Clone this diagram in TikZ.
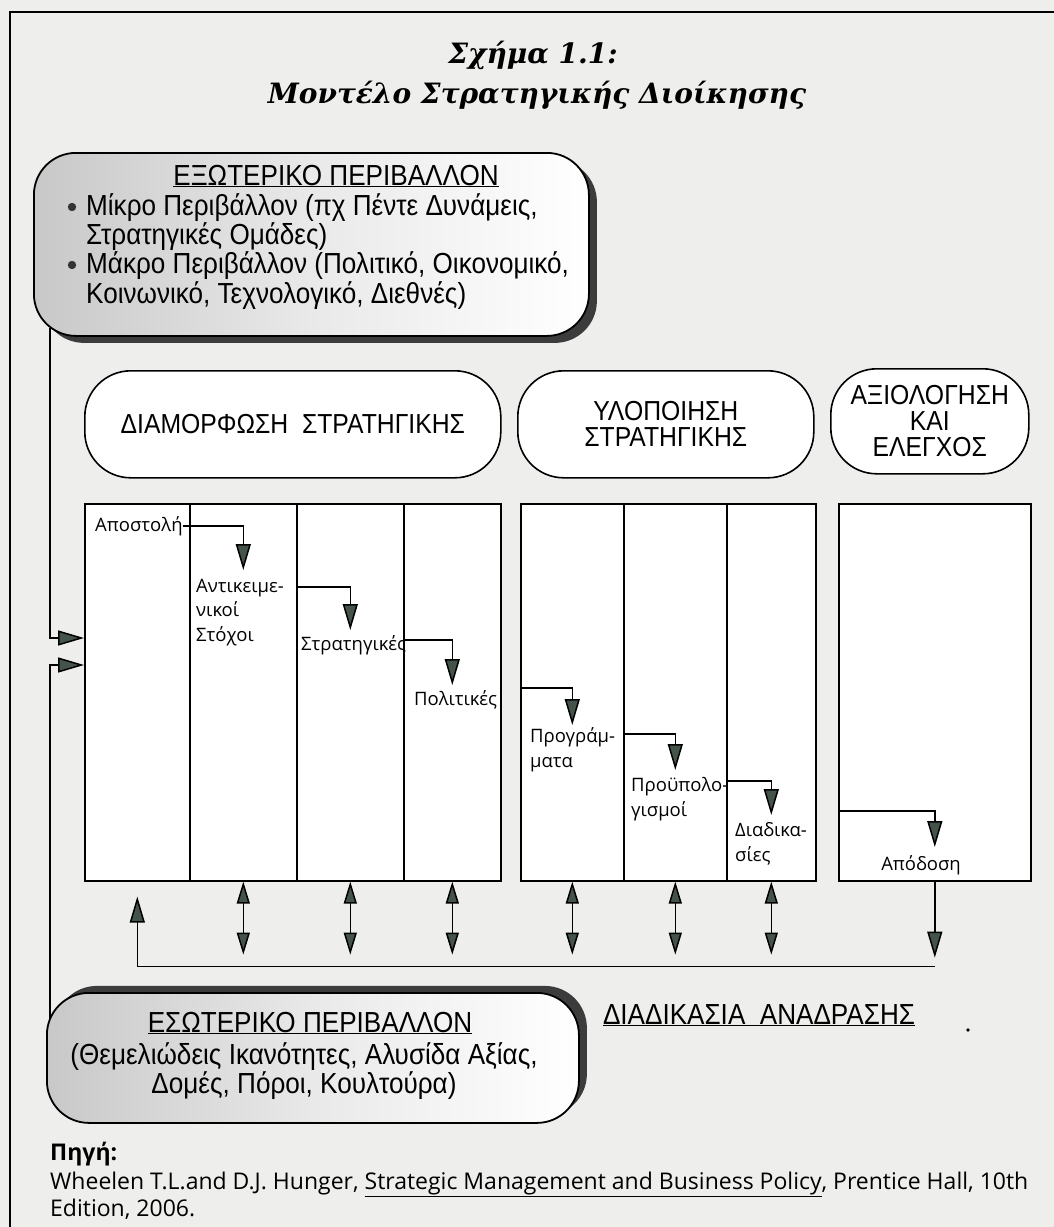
\documentclass[tikz,border=0pt]{standalone}
\usepackage{fontspec}
\setmainfont{Liberation Sans}
\newfontfamily\condf{Liberation Sans}[FakeStretch=0.9]
\newfontfamily\humf{Open Sans}
\newfontfamily\titf{DejaVu Serif}
\usetikzlibrary{arrows.meta,calc,shadows}
\definecolor{bgc}{RGB}{238,238,236}
\definecolor{tipc}{RGB}{68,84,74}
\definecolor{shd}{RGB}{60,60,60}
\definecolor{envl}{RGB}{200,200,200}
\begin{document}
\begin{tikzpicture}[x=1pt,y=-1pt,
  colbox/.style={draw, line width=1.6pt, fill=white, inner sep=0pt, anchor=north west, minimum height=377pt},
  hdr/.style={draw, line width=1.6pt, fill=white, rounded corners=46pt, anchor=north west, inner sep=0pt, minimum height=107pt, align=center, font=\condf\fontsize{27.5}{26}\selectfont},
  envbox/.style={draw, line width=1.8pt, rounded corners=42pt, anchor=north west, inner sep=0pt,
     path picture={\shade[left color=envl, right color=white, middle color=envl!40!white]
        (path picture bounding box.south west) rectangle (path picture bounding box.north east);}},
  arr/.style={line width=1.5pt, -{Triangle[length=26pt,width=15pt,fill=tipc]}},
  darr/.style={line width=1.5pt, {Triangle[length=22pt,width=13pt,fill=tipc]}-{Triangle[length=22pt,width=13pt,fill=tipc]}},
  lab/.style={font=\humf\fontsize{18.5}{24.5}\selectfont, anchor=base west, inner sep=0pt, align=left},
  envtxt/.style={font=\condf\fontsize{29}{29}\selectfont, inner sep=0pt},
  src/.style={font=\humf\fontsize{23}{26}\selectfont, anchor=base west, inner sep=0pt},
  titl/.style={font=\titf\bfseries\itshape\fontsize{28}{34}\selectfont, anchor=base, inner sep=0pt}
]
\useasboundingbox (0,0) rectangle (1054,1227);
\fill[bgc] (0,0) rectangle (1054,1227);
\draw[line width=2.4pt] (10,1240) -- (10,12) -- (1070,12);

% title
\node[titl] (t1) at (533,63) {Σχήμα 1.1:};
\node[titl] (t2) at (537,103) {Μοντέλο Στρατηγικής Διοίκησης};

% external environment
\node[envbox, minimum width=555pt, minimum height=183pt,
      drop shadow={shadow xshift=8pt,shadow yshift=-7pt,fill=shd,opacity=1}] (ext) at (33,152) {};
\node[envtxt, anchor=base] (exth) at (336,185) {\underline{ΕΞΩΤΕΡΙΚΟ ΠΕΡΙΒΑΛΛΟΝ}};
\fill[black!80] (72,207) circle (4.2);
\node[envtxt, anchor=base west] (ex1) at (86,215) {Μίκρο Περιβάλλον (πχ Πέντε Δυνάμεις,};
\node[envtxt, anchor=base west] (ex2) at (86,244) {Στρατηγικές Ομάδες)};
\fill[black!80] (72,265) circle (4.2);
\node[envtxt, anchor=base west] (ex3) at (86,273) {Μάκρο Περιβάλλον (Πολιτικό, Οικονομικό,};
\node[envtxt, anchor=base west] (ex4) at (86,303) {Κοινωνικό, Τεχνολογικό, Διεθνές)};

% header boxes
\node[hdr, minimum width=416pt] (hf) at (84,370) {ΔΙΑΜΟΡΦΩΣΗ\ \ ΣΤΡΑΤΗΓΙΚΗΣ};
\node[hdr, minimum width=296pt] (hi) at (517,370) {ΥΛΟΠΟΙΗΣΗ\\ΣΤΡΑΤΗΓΙΚΗΣ};
\node[hdr, minimum width=198pt, minimum height=105pt] (he) at (830,368) {ΑΞΙΟΛΟΓΗΣΗ\\ΚΑΙ\\ΕΛΕΓΧΟΣ};

% column boxes
\node[colbox, minimum width=105pt] (c1) at (84,503) {};
\node[colbox, minimum width=107pt] (c2) at (189,503) {};
\node[colbox, minimum width=107pt] (c3) at (296,503) {};
\node[colbox, minimum width=97pt] (c4) at (403,503) {};
\node[colbox, minimum width=103pt] (d1) at (520,503) {};
\node[colbox, minimum width=103pt] (d2) at (623,503) {};
\node[colbox, minimum width=89pt] (d3) at (726,503) {};
\node[colbox, minimum width=192pt] (e1) at (838,503) {};

% column labels (base = baseline of last line)
\node[lab] (l1) at (95,531) {Αποστολή};
\node[lab] (l2) at (196,641) {Αντικειμε-\\νικοί\\Στόχοι};
\node[lab] (l3) at (301,650) {Στρατηγικές};
\node[lab] (l4) at (414,705) {Πολιτικές};
\node[lab] (l5) at (530,767) {Προγράμ-\\ματα};
\node[lab] (l6) at (631,816) {Προϋπολο-\\γισμοί};
\node[lab] (l7) at (735,861) {Διαδικα-\\σίες};
\node[lab, anchor=base] (l8) at (921,870) {Απόδοση};

% column arrows
\draw[arr] (l1.east) -| ($(c2.north)+(0,67)$);
\draw[arr] ($(c3.north west)+(0,84)$) -| ($(c3.north)+(0,127)$);
\draw[arr] ($(c4.north west)+(0,137)$) -| ($(c4.north)+(0,182)$);
\draw[arr] ($(d1.north west)+(0,185)$) -| ($(d1.north)+(0,222)$);
\draw[arr] ($(d2.north west)+(0,231)$) -| ($(d2.north)+(0,267)$);
\draw[arr] ($(d3.north west)+(0,278)$) -| ($(d3.north)+(0,312)$);
\draw[arr] ($(e1.north west)+(0,308)$) -| ($(e1.north)+(0,344)$);

% internal environment
\node[envbox, minimum width=532pt, minimum height=130pt,
      drop shadow={shadow xshift=8pt,shadow yshift=7pt,fill=shd,opacity=1}] (int) at (46,992) {};
\node[envtxt, anchor=base] (inth) at (310,1032) {\underline{ΕΣΩΤΕΡΙΚΟ ΠΕΡΙΒΑΛΛΟΝ}};
\node[envtxt, anchor=base, align=center, font=\condf\fontsize{29}{26}\selectfont] (int1) at (304,1093) {(Θεμελιώδεις Ικανότητες, Αλυσίδα Αξίας,\\Δομές, Πόροι, Κουλτούρα)};

% links from environments to formulation
\draw[arr] ($(ext.south west)+(17,-9)$) |- ($(c1.north west)+(0,135)$);
\draw[arr] ($(int.north west)+(4,27)$) |- ($(c1.north west)+(0,162)$);

% two-way arrows
\foreach \n in {c2,c3,c4,d1,d2,d3}{
  \draw[darr] (\n.south) -- ++(0,73);
}
% feedback
\coordinate (fbr) at ($(e1.south)+(0,85)$);
\coordinate (fbl) at ($(c1.south)+(0,85)$);
\draw[arr] (e1.south) -- ++(0,76);
\draw[arr] (fbr) -- (fbl) -- ($(c1.south)+(0,15)$);
\node[envtxt, anchor=base] (fbt) at (759,1024) {\underline{ΔΙΑΔΙΚΑΣΙΑ\ \ ΑΝΑΔΡΑΣΗΣ}};
\fill (968,1030) circle (1.8);

% source
\node[src, font=\humf\bfseries\fontsize{23}{26}\selectfont] (s0) at (50,1160) {Πηγή:};
\node[src] (s1) at (50,1189) {Wheelen T.L.and D.J. Hunger, \underline{Strategic Management and Business Policy}, Prentice Hall, 10th};
\node[src] (s2) at (50,1216) {Edition, 2006.};
\end{tikzpicture}
\end{document}
